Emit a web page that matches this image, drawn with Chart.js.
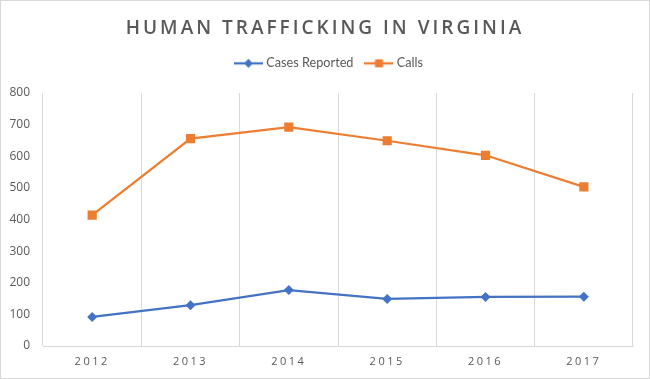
<!DOCTYPE html>
<html>
<head>
<meta charset="utf-8">
<script src="https://cdn.jsdelivr.net/npm/chart.js@4/dist/chart.umd.min.js"></script>
<style>
  html, body { margin: 0; padding: 0; background: #fff; }
  #wrap { position: relative; width: 650px; height: 379px; box-sizing: border-box; border: 1px solid #d9d9d9; background: #fff; }
  #title { position: absolute; left: 0; right: 0; top: 13px; text-align: center; font-family: "Open Sans", sans-serif; font-weight: 600; font-size: 19px; letter-spacing: 3px; color: #595959; line-height: 26px; }
  #c { position: absolute; left: 0; top: 0; }
</style>
</head>
<body>
<div id="wrap">
  <canvas id="c" width="648" height="377"></canvas>
  <div id="title">HUMAN TRAFFICKING IN VIRGINIA</div>
</div>
<script>
const titleText = 'HUMAN TRAFFICKING IN VIRGINIA';
const years = ['2012', '2013', '2014', '2015', '2016', '2017'];
const seriesNames = ['Cases Reported', 'Calls'];
const casesReported = [92, 129, 177, 149, 155, 156];
const calls = [414, 656, 692, 649, 603, 503];
const yMin = 0, yMax = 800, yStep = 100;

const BLUE = '#4472C4';
const ORANGE = '#ED7D31';
const TEXT = '#595959';
const GRID = '#d9d9d9';

document.getElementById('title').textContent = titleText;

function legendIcon(color, shape) {
  const cv = document.createElement('canvas');
  cv.width = 29; cv.height = 12;
  const g = cv.getContext('2d');
  g.strokeStyle = color; g.lineWidth = 2.25;
  g.beginPath(); g.moveTo(0, 6); g.lineTo(29, 6); g.stroke();
  g.fillStyle = color;
  g.beginPath();
  const cx = 14.5;
  if (shape === 'diamond') {
    g.moveTo(cx, 1.5); g.lineTo(cx + 4.5, 6); g.lineTo(cx, 10.5); g.lineTo(cx - 4.5, 6); g.closePath();
  } else {
    g.rect(cx - 4, 2, 8, 8);
  }
  g.fill();
  return cv;
}
const icons = [legendIcon(BLUE, 'diamond'), legendIcon(ORANGE, 'square')];

const LEGEND_BOX_HEIGHT = 50;
const LEGEND_SHIFT = 26;

const tweaks = {
  id: 'tweaks',
  beforeLayout(chart) {
    const lg = chart.legend;
    if (lg && !lg._patched) {
      const of = lg.fit;
      lg.fit = function () { of.call(this); this.height = LEGEND_BOX_HEIGHT; };
      lg._patched = true;
    }
  },
  afterLayout(chart) {
    const lg = chart.legend;
    if (lg) { lg.left += LEGEND_SHIFT; }
  },
  afterUpdate(chart) {
    const sc = chart.scales.x;
    if (sc && !sc._lsPatched) {
      const orig = sc.drawLabels;
      sc.drawLabels = function (area) {
        const ctx = this.ctx;
        ctx.save();
        ctx.letterSpacing = '2.5px';
        orig.call(this, area);
        ctx.restore();
      };
      sc._lsPatched = true;
    }
  }
};

new Chart(document.getElementById('c'), {
  type: 'line',
  data: {
    labels: years,
    datasets: [
      {
        label: seriesNames[0],
        data: casesReported,
        borderColor: BLUE,
        backgroundColor: BLUE,
        borderWidth: 2.25,
        pointStyle: 'rectRot',
        pointRadius: 5,
        pointHoverRadius: 5,
        pointBorderWidth: 0,
        tension: 0
      },
      {
        label: seriesNames[1],
        data: calls,
        borderColor: ORANGE,
        backgroundColor: ORANGE,
        borderWidth: 2.25,
        pointStyle: 'rect',
        pointRadius: 6.5,
        pointHoverRadius: 6.5,
        pointBorderWidth: 0,
        tension: 0
      }
    ]
  },
  options: {
    responsive: false,
    animation: false,
    devicePixelRatio: 1,
    layout: { padding: { top: 42, right: 16, bottom: 0, left: 0 } },
    plugins: {
      title: { display: false },
      tooltip: { enabled: false },
      legend: {
        display: true,
        position: 'top',
        labels: {
          usePointStyle: true,
          pointStyleWidth: 23,
          boxHeight: 12,
          padding: 14,
          color: TEXT,
          font: { family: 'Lato', size: 12.7 },
          generateLabels(chart) {
            const items = Chart.defaults.plugins.legend.labels.generateLabels(chart);
            items.forEach((it, i) => { it.pointStyle = icons[i]; it.fontColor = TEXT; });
            return items;
          }
        }
      }
    },
    scales: {
      x: {
        type: 'category',
        offset: true,
        grid: { display: true, offset: true, color: GRID, lineWidth: 1, drawTicks: false },
        border: { display: true, color: GRID, width: 1 },
        ticks: { color: TEXT, padding: 9, font: { family: 'Open Sans', size: 11 }, maxRotation: 0 },
        afterFit(scale) { scale.height = 32; }
      },
      y: {
        min: yMin,
        max: yMax,
        grid: { display: false, drawTicks: false },
        border: { display: false },
        ticks: { stepSize: yStep, color: TEXT, padding: 13, font: { family: 'Open Sans', size: 12 } },
        afterFit(scale) { scale.width = 42; }
      }
    }
  },
  plugins: [tweaks]
});
</script>
</body>
</html>
